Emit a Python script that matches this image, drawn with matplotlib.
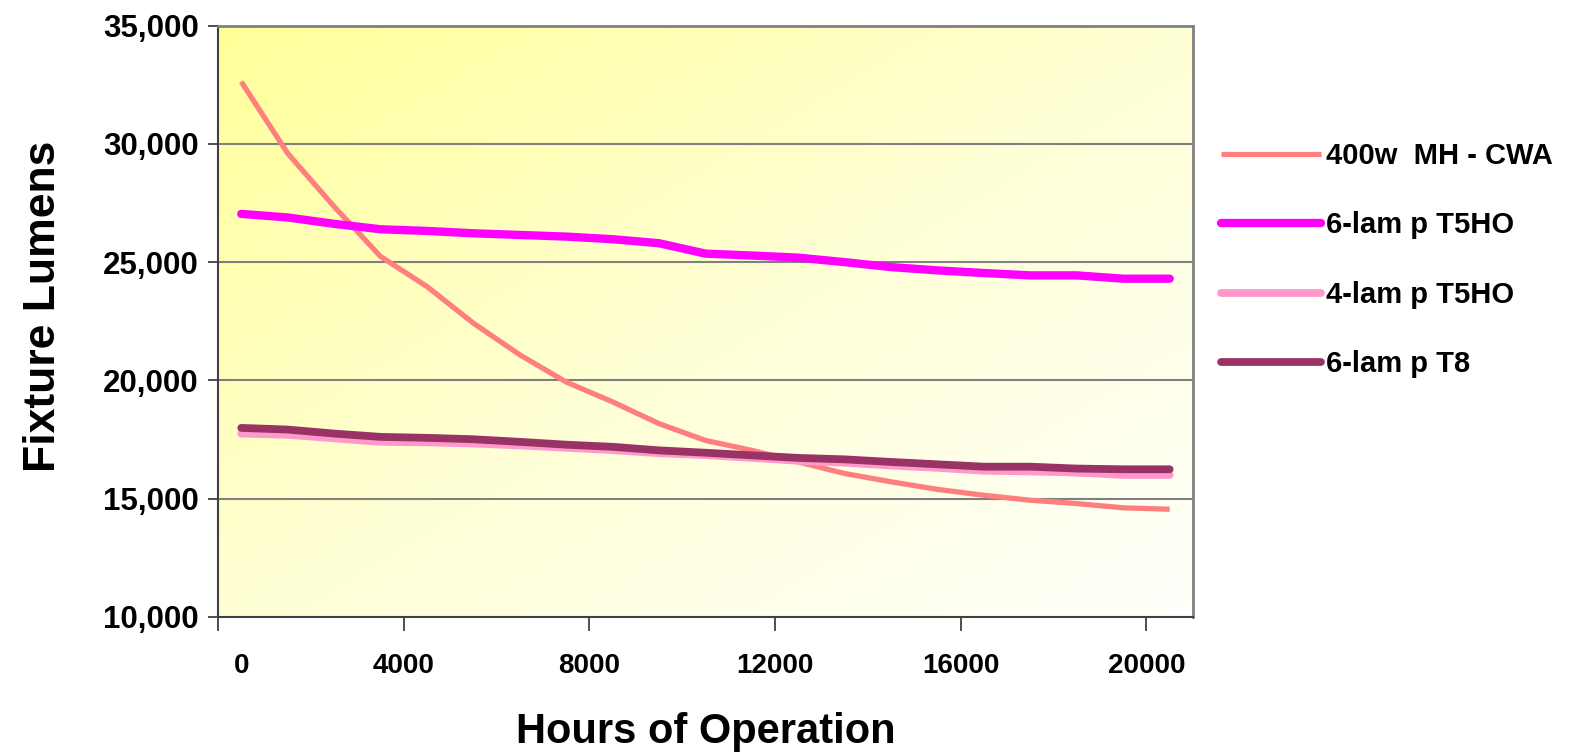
import numpy as np
import matplotlib.pyplot as plt
from matplotlib.colors import LinearSegmentedColormap
from matplotlib.ticker import FuncFormatter

# hours of operation at each reading
hours = [500, 1500, 2500, 3500, 4500, 5500, 6500, 7500, 8500, 9500, 10500,
         11500, 12500, 13500, 14500, 15500, 16500, 17500, 18500, 19500, 20500]

# fixture lumens
mh_cwa = [32630, 29600, 27350, 25240, 23970, 22420, 21080, 19930, 19090, 18170,
          17460, 17040, 16550, 16060, 15710, 15390, 15140, 14930, 14790, 14610, 14550]
t5ho_6 = [27040, 26890, 26620, 26390, 26320, 26220, 26150, 26080, 25970, 25800,
          25360, 25280, 25190, 25000, 24790, 24650, 24540, 24440, 24440, 24300, 24300]
t5ho_4 = [17750, 17700, 17550, 17400, 17380, 17330, 17250, 17150, 17050, 16920,
          16840, 16720, 16600, 16520, 16400, 16300, 16180, 16150, 16100, 16000, 16000]
t8_6 = [17990, 17920, 17750, 17610, 17570, 17510, 17400, 17280, 17190, 17040,
        16940, 16830, 16720, 16660, 16550, 16450, 16350, 16350, 16270, 16240, 16240]

series_names = ['400w  MH - CWA', '6-lam p T5HO', '4-lam p T5HO', '6-lam p T8']
series_colors = ['#FF7F7F', '#FF00FF', '#FF99CC', '#993366']
series_widths = [3.8, 6.0, 5.6, 5.6]

x_ticks = [0, 4000, 8000, 12000, 16000, 20000]
x_tick_labels = ['', '4000', '8000', '12000', '16000', '20000']
y_ticks = [10000, 15000, 20000, 25000, 30000, 35000]

plt.rcParams['font.family'] = ['Liberation Sans', 'DejaVu Sans']
plt.rcParams['font.weight'] = 'bold'

fig = plt.figure(figsize=(15.8, 7.55), dpi=100)
ax = fig.add_axes([0.138, 0.183, 0.617, 0.783])

# diagonal yellow-to-white gradient behind the plot area
gx, gy = np.meshgrid(np.linspace(0, 1, 400), np.linspace(0, 1, 400))
t = (gx + gy) / 2
cmap = LinearSegmentedColormap.from_list('bg', ['#FFFF99', '#FFFFD5', '#FFFFFC'])
ax.imshow(t, extent=(0, 21000, 10000, 35000), aspect='auto', cmap=cmap,
          origin='upper', zorder=0, interpolation='bilinear')

for yv in y_ticks[1:-1]:
    ax.axhline(yv, color='#808080', lw=1.5, zorder=1)

data = [mh_cwa, t5ho_6, t5ho_4, t8_6]
for vals, name, col, lw in zip(data, series_names, series_colors, series_widths):
    cap = 'butt' if lw < 4 else 'round'
    ax.plot(hours, vals, color=col, lw=lw, label=name, solid_capstyle=cap, zorder=3)

ax.set_xlim(0, 21000)
ax.set_ylim(10000, 35000)

ax.set_xticks(x_ticks)
ax.set_xticklabels(x_tick_labels)
ax.tick_params(axis='x', which='major', direction='out', length=10, width=1.3,
               color='#404040', pad=16, labelsize=20)
# the "0" label sits a little right of its tick in the original
ax.set_xticks([500], minor=True)
ax.set_xticklabels(['0'], minor=True)
ax.tick_params(axis='x', which='minor', length=0, pad=26, labelsize=20)

ax.set_yticks(y_ticks)
ax.yaxis.set_major_formatter(FuncFormatter(lambda v, p: f'{v:,.0f}'))
ax.tick_params(axis='y', direction='out', length=7, width=1.3, color='#404040',
               pad=7, labelsize=22.5)

for side in ['top', 'right']:
    ax.spines[side].set_color('#808080')
    ax.spines[side].set_linewidth(2)
for side in ['left', 'bottom']:
    ax.spines[side].set_color('#404040')
    ax.spines[side].set_linewidth(1.5)

ax.set_xlabel('Hours of Operation', fontsize=30, fontweight='bold', labelpad=24)
ax.set_ylabel('Fixture Lumens', fontsize=32, fontweight='bold')
ax.yaxis.set_label_coords(-0.1575, 0.525)

ax.legend(loc='upper left', bbox_to_anchor=(0.773, 0.812), bbox_transform=fig.transFigure,
          frameon=False, fontsize=21, handlelength=3.4, handletextpad=0.2,
          labelspacing=1.42, borderpad=0, borderaxespad=0)

fig.savefig('out.png', dpi=100)
